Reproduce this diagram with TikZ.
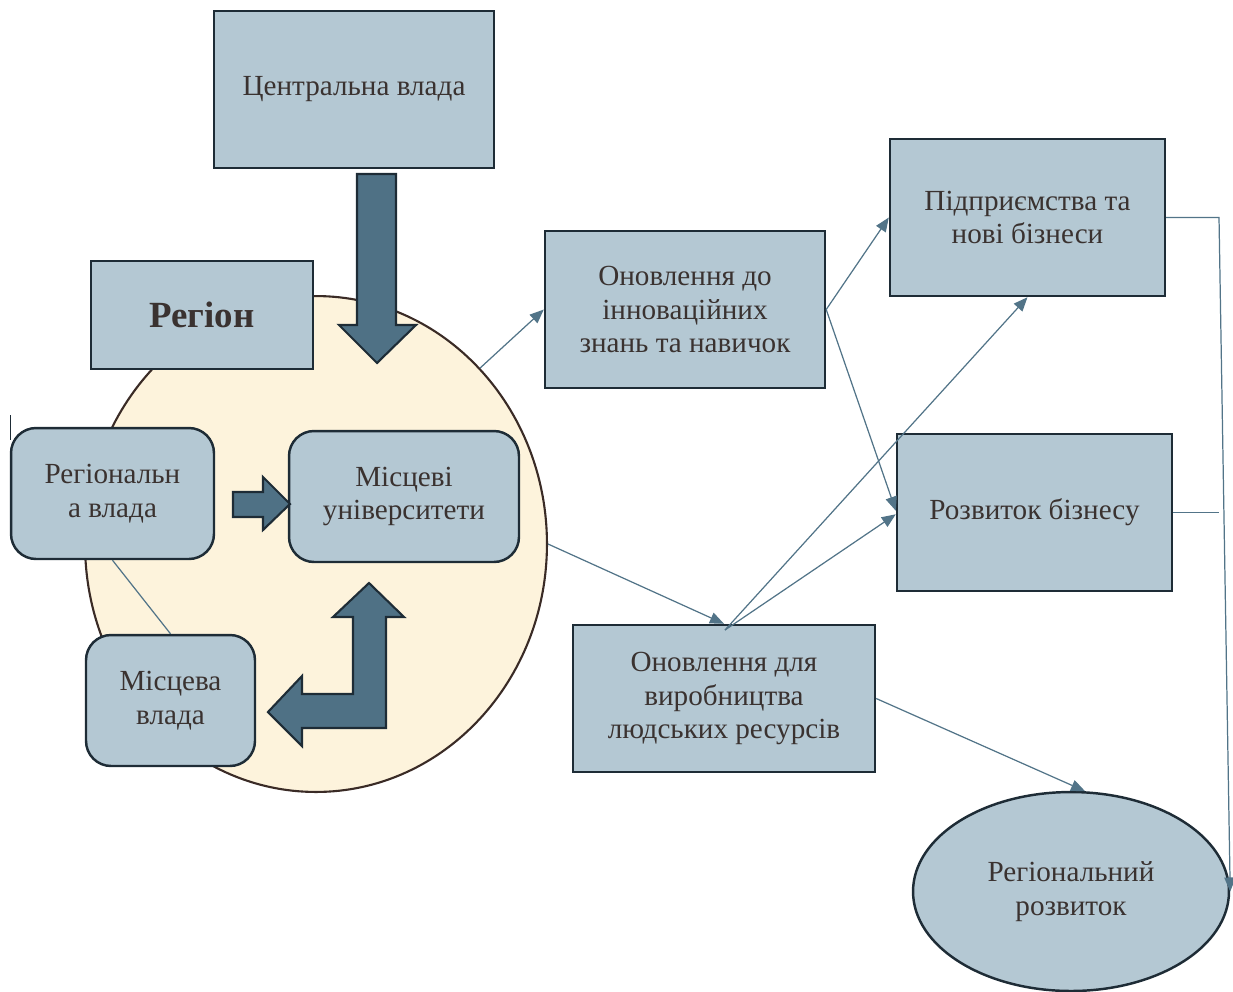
\documentclass[tikz,border=0pt]{standalone}
\usepackage{fontspec}
\setmainfont{Liberation Serif}
\usetikzlibrary{arrows.meta,shapes.geometric}

\definecolor{boxfill}{RGB}{180,200,211}
\definecolor{boxline}{RGB}{30,44,54}
\definecolor{arrfill}{RGB}{79,113,133}
\definecolor{linkcol}{RGB}{82,116,136}
\definecolor{cream}{RGB}{253,243,220}
\definecolor{rim}{RGB}{58,43,38}
\definecolor{txt}{RGB}{58,50,48}

\begin{document}
\begin{tikzpicture}[x=0.02cm, y=-0.02cm,
  box/.style={draw=boxline, fill=boxfill, line width=1.4pt, inner sep=0pt,
    align=center, text=txt, font=\fontsize{16.6}{19.3}\selectfont},
  rbox/.style={box, rounded corners=0.5cm},
  bigarrow/.style={draw=boxline, fill=arrfill, line width=1.2pt, line join=miter},
  link/.style={draw=linkcol, line width=0.7pt},
  tolink/.style={link, -{Triangle[length=8pt,width=6.5pt]}}]
\useasboundingbox (0,0) rectangle (1233,991);
% region
\node[ellipse, draw=rim, fill=cream, line width=1.2pt, inner sep=0pt,
  minimum width=9.24cm, minimum height=9.92cm] (region) at (316,544) {};
\node[box, minimum width=4.44cm, minimum height=2.16cm,
  font=\fontsize{21}{25}\selectfont\bfseries] (regbox) at (202,315) {Регіон};
\node[box, minimum width=5.6cm, minimum height=3.14cm] (central) at (354,89.5) {Центральна влада};
\node[rbox, minimum width=4.06cm, minimum height=2.62cm] (regauth) at (112.5,493.5) {Регіональн\\а влада};
\node[rbox, minimum width=4.6cm, minimum height=2.62cm] (univ) at (404,496.5) {Місцеві\\університети};
\node[rbox, minimum width=3.38cm, minimum height=2.62cm] (localauth) at (170.5,700.5) {Місцева\\влада};
% right side
\node[box, minimum width=5.6cm, minimum height=3.14cm] (inno) at (685,309.5) {Оновлення до\\інноваційних\\знань та навичок};
\node[box, minimum width=5.5cm, minimum height=3.14cm] (enterp) at (1027.5,217.5) {Підприємства та\\нові бізнеси};
\node[box, minimum width=5.5cm, minimum height=3.14cm] (busdev) at (1034.5,512.5) {Розвиток бізнесу};
\node[box, minimum width=6.04cm, minimum height=2.94cm] (human) at (724,698.5) {Оновлення для\\виробництва\\людських ресурсів};
\node[box, ellipse, minimum width=6.32cm, minimum height=3.98cm] (regdev) at (1071,891.5) {Регіональний\\розвиток};
% block arrows
\draw[bigarrow] (357,174) -- (396,174) -- (396,325) -- (416,325) -- (377,363)
  -- (339,325) -- (357,325) -- cycle;
\draw[bigarrow] (233,492) -- (263,492) -- (263,477) -- (290,504) -- (263,530)
  -- (263,517) -- (233,517) -- cycle;
\draw[bigarrow] (369,583) -- (404,617) -- (386,617) -- (386,728) -- (302,728)
  -- (302,746) -- (268,712) -- (302,676) -- (302,694) -- (353,694) -- (353,617)
  -- (333,617) -- cycle;
% connectors
\coordinate (hsrc) at (725,630);
\coordinate (rail) at (1219,0);
\draw[link] (regauth.south) -- (localauth.north);
\draw[tolink] (region.47) -- (inno.west);
\draw[tolink] (region.east) -- (human.north);
\draw[tolink] (inno.east) -- (enterp.west);
\draw[tolink] (inno.east) -- ([yshift=1pt]busdev.west);
\draw[tolink] (hsrc) -- (enterp.south);
\draw[tolink] (hsrc) -- ([yshift=-1pt]busdev.west);
\draw[tolink] (human.east) -- (regdev.82);
\draw[tolink] (enterp.east) -- (enterp.east -| rail) -- (regdev.east);
\draw[link] (busdev.east) -- (busdev.east -| rail);
\draw[draw=boxline, line width=0.6pt] (10.5,415) -- (10.5,440);
\end{tikzpicture}
\end{document}
